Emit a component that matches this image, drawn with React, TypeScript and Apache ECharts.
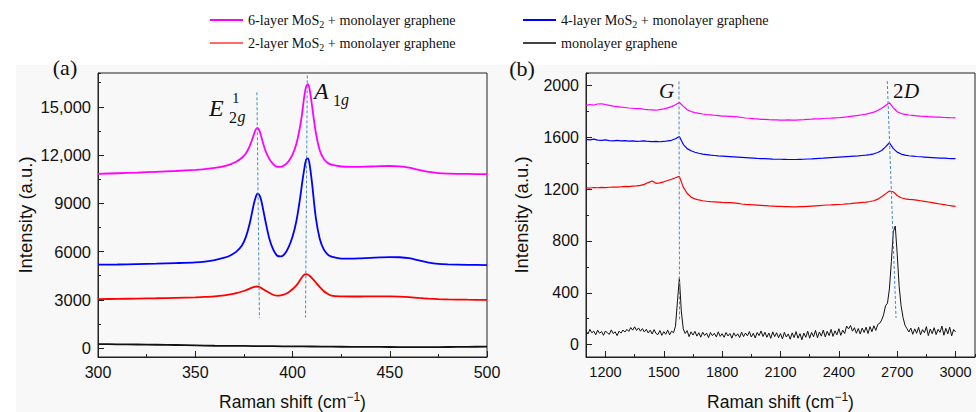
import React, { useEffect, useRef } from 'react';
import * as echarts from 'echarts';

// ---------- legend / series names ----------
const seriesNames = [
  '6-layer MoS2 + monolayer graphene',
  '4-layer MoS2 + monolayer graphene',
  '2-layer MoS2 + monolayer graphene',
  'monolayer graphene',
];
const seriesColors = ['#ff00ff', '#0000ff', '#ff0000', '#111111'];
const legendColors = ['#ff00ff', '#0000ff', '#ff6a6a', '#444444'];

// ---------- panel (a): MoS2 region ----------
const shiftA = [300, 310, 320, 330, 340, 350, 355, 360, 365, 368, 371, 374, 376, 378, 380, 381, 382, 383, 384, 386, 388, 390, 392, 394, 396, 398, 400, 402, 404, 405, 406, 407, 408, 409, 410, 412, 414, 416, 418, 420, 425, 430, 435, 440, 445, 450, 455, 460, 465, 470, 475, 480, 490, 500];
const mos6A = [10830, 10870, 10910, 10960, 11010, 11080, 11130, 11200, 11310, 11420, 11580, 11830, 12100, 12560, 13220, 13560, 13690, 13520, 13120, 12300, 11780, 11450, 11260, 11260, 11380, 11620, 12020, 12700, 13850, 14650, 15600, 16250, 16400, 15950, 15100, 13400, 12300, 11780, 11520, 11400, 11290, 11260, 11270, 11290, 11310, 11320, 11300, 11220, 11080, 10950, 10880, 10850, 10830, 10810];
const mos4A = [5185, 5200, 5225, 5250, 5285, 5330, 5380, 5470, 5620, 5760, 5980, 6380, 6900, 7750, 8900, 9350, 9600, 9500, 9150, 7950, 6850, 6150, 5760, 5700, 5860, 6280, 6920, 7900, 9400, 10300, 11100, 11700, 11800, 11250, 10300, 8100, 6800, 6150, 5830, 5690, 5570, 5560, 5580, 5610, 5640, 5660, 5650, 5590, 5450, 5320, 5240, 5210, 5180, 5165];
const mos2A = [3050, 3060, 3080, 3100, 3130, 3160, 3185, 3215, 3280, 3340, 3420, 3520, 3600, 3700, 3790, 3820, 3830, 3800, 3730, 3580, 3440, 3320, 3260, 3280, 3350, 3480, 3660, 3900, 4250, 4420, 4560, 4600, 4560, 4470, 4350, 4080, 3800, 3550, 3380, 3270, 3220, 3210, 3210, 3215, 3220, 3215, 3200, 3170, 3120, 3080, 3050, 3030, 3010, 3000];
const shiftMonoA = [300, 310, 320, 330, 340, 350, 360, 370, 380, 390, 400, 410, 420, 430, 440, 450, 460, 470, 480, 490, 500];
const monoA = [250, 240, 228, 212, 195, 172, 150, 142, 130, 122, 110, 102, 92, 84, 80, 72, 64, 62, 72, 82, 92];
// dashed guide lines: [xTop, yTop, xBottom, yBottom]
const guidesA = [
  [381.7, 15900, 383.0, 1870],
  [407.6, 16950, 406.7, 1900],
];
const yRangeA = [-550, 17100];

// ---------- panel (b): graphene region ----------
const shiftB = [1100, 1120, 1140, 1160, 1180, 1200, 1220, 1240, 1260, 1280, 1300, 1320, 1340, 1360, 1380, 1400, 1420, 1440, 1460, 1480, 1500, 1520, 1540, 1560, 1580, 1600, 1620, 1640, 1660, 1680, 1700, 1720, 1740, 1760, 1780, 1800, 1820, 1840, 1860, 1880, 1900, 1920, 1940, 1960, 1980, 2000, 2020, 2040, 2060, 2080, 2100, 2120, 2140, 2160, 2180, 2200, 2220, 2240, 2260, 2280, 2300, 2320, 2340, 2360, 2380, 2400, 2420, 2440, 2460, 2480, 2500, 2520, 2540, 2560, 2580, 2600, 2620, 2640, 2660, 2680, 2700, 2720, 2740, 2760, 2780, 2800, 2820, 2840, 2860, 2880, 2900, 2920, 2940, 2960, 2980, 3000];
const mos6B = [1845, 1852, 1848, 1856, 1858, 1851, 1846, 1840, 1836, 1832, 1829, 1825, 1823, 1820, 1821, 1815, 1812, 1810, 1808, 1813, 1818, 1826, 1836, 1850, 1868, 1840, 1812, 1798, 1790, 1784, 1779, 1775, 1772, 1769, 1766, 1763, 1762, 1760, 1758, 1756, 1752, 1748, 1746, 1743, 1741, 1738, 1737, 1735, 1734, 1733, 1732, 1731, 1733, 1732, 1732, 1734, 1735, 1738, 1739, 1741, 1742, 1744, 1746, 1747, 1749, 1750, 1753, 1756, 1760, 1764, 1768, 1773, 1778, 1785, 1793, 1806, 1824, 1845, 1866, 1826, 1796, 1783, 1776, 1771, 1768, 1765, 1762, 1760, 1758, 1757, 1755, 1754, 1752, 1751, 1750, 1749];
const mos4B = [1583, 1580, 1585, 1578, 1576, 1579, 1574, 1572, 1576, 1571, 1573, 1569, 1572, 1568, 1569, 1571, 1567, 1566, 1568, 1565, 1567, 1571, 1576, 1588, 1606, 1545, 1512, 1495, 1484, 1476, 1470, 1466, 1462, 1459, 1456, 1454, 1452, 1450, 1448, 1446, 1444, 1442, 1440, 1438, 1436, 1435, 1434, 1433, 1431, 1430, 1430, 1429, 1428, 1428, 1428, 1429, 1430, 1432, 1433, 1435, 1437, 1438, 1440, 1442, 1444, 1446, 1448, 1450, 1452, 1454, 1456, 1459, 1462, 1466, 1472, 1482, 1497, 1525, 1557, 1512, 1485, 1470, 1462, 1457, 1454, 1451, 1449, 1447, 1445, 1443, 1441, 1439, 1438, 1436, 1435, 1434];
const mos2B = [1210, 1208, 1212, 1210, 1213, 1211, 1214, 1216, 1215, 1218, 1220, 1219, 1222, 1224, 1228, 1236, 1250, 1262, 1244, 1248, 1256, 1266, 1276, 1287, 1298, 1215, 1168, 1138, 1124, 1116, 1110, 1106, 1103, 1101, 1099, 1097, 1096, 1095, 1093, 1090, 1085, 1082, 1080, 1078, 1076, 1074, 1072, 1070, 1069, 1067, 1066, 1065, 1064, 1063, 1063, 1064, 1065, 1067, 1069, 1071, 1073, 1075, 1077, 1078, 1080, 1081, 1083, 1086, 1088, 1091, 1094, 1097, 1100, 1104, 1110, 1122, 1140, 1163, 1185, 1178, 1150, 1133, 1125, 1121, 1118, 1114, 1110, 1105, 1100, 1095, 1090, 1085, 1080, 1075, 1071, 1067];
const shiftMonoB = [1100, 1110, 1120, 1130, 1140, 1150, 1160, 1170, 1180, 1190, 1200, 1210, 1220, 1230, 1240, 1250, 1260, 1270, 1280, 1290, 1300, 1310, 1320, 1330, 1340, 1350, 1360, 1370, 1380, 1390, 1400, 1410, 1420, 1430, 1440, 1450, 1460, 1470, 1480, 1490, 1500, 1510, 1520, 1530, 1540, 1550, 1560, 1570, 1580, 1590, 1600, 1610, 1620, 1630, 1640, 1650, 1660, 1670, 1680, 1690, 1700, 1710, 1720, 1730, 1740, 1750, 1760, 1770, 1780, 1790, 1800, 1810, 1820, 1830, 1840, 1850, 1860, 1870, 1880, 1890, 1900, 1910, 1920, 1930, 1940, 1950, 1960, 1970, 1980, 1990, 2000, 2010, 2020, 2030, 2040, 2050, 2060, 2070, 2080, 2090, 2100, 2110, 2120, 2130, 2140, 2150, 2160, 2170, 2180, 2190, 2200, 2210, 2220, 2230, 2240, 2250, 2260, 2270, 2280, 2290, 2300, 2310, 2320, 2330, 2340, 2350, 2360, 2370, 2380, 2390, 2400, 2410, 2420, 2430, 2440, 2450, 2460, 2470, 2480, 2490, 2500, 2510, 2520, 2530, 2540, 2550, 2560, 2570, 2580, 2590, 2600, 2610, 2620, 2630, 2640, 2650, 2660, 2670, 2680, 2690, 2700, 2710, 2720, 2730, 2740, 2750, 2760, 2770, 2780, 2790, 2800, 2810, 2820, 2830, 2840, 2850, 2860, 2870, 2880, 2890, 2900, 2910, 2920, 2930, 2940, 2950, 2960, 2970, 2980, 2990, 3000];
const monoB = [108, 82, 118, 92, 104, 76, 112, 88, 102, 72, 106, 90, 80, 114, 86, 99, 70, 104, 89, 113, 97, 118, 102, 132, 112, 138, 110, 129, 104, 124, 98, 119, 90, 112, 82, 116, 86, 78, 109, 72, 101, 80, 112, 76, 104, 92, 142, 330, 515, 260, 122, 86, 108, 62, 99, 74, 103, 66, 92, 58, 96, 71, 89, 54, 94, 69, 88, 60, 99, 64, 85, 57, 94, 67, 86, 50, 91, 65, 84, 55, 97, 62, 90, 68, 101, 59, 88, 52, 94, 70, 106, 63, 96, 57, 90, 49, 99, 62, 92, 54, 86, 44, 95, 59, 83, 42, 91, 55, 101, 50, 85, 38, 89, 57, 104, 50, 95, 61, 110, 54, 98, 66, 113, 60, 103, 70, 118, 64, 107, 76, 123, 72, 112, 86, 144, 122, 148, 104, 131, 88, 125, 82, 128, 94, 135, 86, 139, 100, 146, 110, 156, 165, 190, 230, 300, 320, 430, 640, 870, 915, 700, 450, 300, 210, 150, 124, 98, 128, 80, 122, 88, 134, 76, 116, 92, 139, 70, 121, 85, 131, 78, 118, 95, 143, 73, 126, 83, 135, 68, 117, 98];
const guidesB = [
  [1578, 2030, 1581, 180],
  [2649, 2033, 2694, 206],
];
const yRangeB = [-95, 2095];

const SANS = '"Liberation Sans", Arial, sans-serif';
const SERIF = '"Liberation Serif", "Times New Roman", serif';
const AXIS_COLOR = '#222';

const fmtThousands = (v: number) => {
  if (Math.abs(v) >= 10000) {
    const t = Math.floor(v / 1000);
    const r = String(v % 1000).padStart(3, '0');
    return `${t},${r}`;
  }
  return String(v);
};
const fmtPlain = (v: number) => String(v);

const pairs = (xs: number[], ys: number[]) => xs.map((x, i) => [x, ys[i]]);
const guideData = (g: number[][]) =>
  g.map((r) => [{ coord: [r[0], r[1]] }, { coord: [r[2], r[3]] }]);

const axisNameStyle = {
  fontFamily: SANS,
  fontSize: 17.5,
  color: '#111',
  lineHeight: 21,
  rich: {
    sup: { fontFamily: SANS, fontSize: 12, lineHeight: 12, verticalAlign: 'top', color: '#111' },
  },
};

const majorY = (grid: number, min: number, max: number, step: number, nameGap: number, fontSize: number, fmt: (v: number) => string) => ({
  type: 'value',
  gridIndex: grid,
  position: 'left',
  min,
  max,
  minInterval: step,
  maxInterval: step,
  name: 'Intensity (a.u.)',
  nameLocation: 'middle',
  nameGap,
  nameTextStyle: { fontFamily: SANS, fontSize: 18.5, color: '#111' },
  axisLine: { show: true, onZero: false, lineStyle: { color: AXIS_COLOR, width: 1 } },
  axisTick: { show: true, inside: true, length: 6, lineStyle: { color: AXIS_COLOR } },
  axisLabel: {
    show: true,
    margin: 7,
    fontFamily: SANS,
    fontSize,
    color: '#111',
    showMinLabel: false,
    showMaxLabel: false,
    formatter: fmt,
  },
  splitLine: { show: false },
});

const minorY = (grid: number, min: number, max: number, step: number) => ({
  type: 'value',
  gridIndex: grid,
  position: 'left',
  min,
  max,
  minInterval: step,
  maxInterval: step,
  axisLine: { show: false, onZero: false },
  axisTick: { show: true, inside: true, length: 3, lineStyle: { color: AXIS_COLOR } },
  axisLabel: { show: false },
  splitLine: { show: false },
});

const lineSeries = (name: string, color: string, data: number[][], xi: number, yi: number, width: number, smooth: number | boolean, extra: any = {}) => ({
  type: 'line',
  name,
  data,
  xAxisIndex: xi,
  yAxisIndex: yi,
  showSymbol: false,
  symbol: 'none',
  smooth,
  color,
  lineStyle: { color, width },
  emphasis: { disabled: true },
  silent: true,
  ...extra,
});

const guideMark = (g: number[][]) => ({
  markLine: {
    silent: true,
    symbol: ['none', 'none'],
    label: { show: false },
    lineStyle: { color: '#4a88c9', width: 1, type: [3, 2] },
    emphasis: { disabled: true },
    data: guideData(g),
  },
});

const legendCommon = {
  orient: 'vertical',
  top: 11,
  padding: 0,
  itemGap: 5,
  itemWidth: 33,
  itemHeight: 2,
  icon: 'rect',
  selectedMode: false,
  formatter: (n: string) => n.replace('MoS2', 'MoS{sub|2}'),
  textStyle: {
    fontFamily: SERIF,
    fontSize: 14.2,
    color: '#111',
    lineHeight: 18,
    rich: {
      sub: { fontFamily: SERIF, fontSize: 10, lineHeight: 10, verticalAlign: 'top', padding: [8, 0, 0, 0], color: '#111' },
    },
  },
};
const legendItem = (i: number) => ({
  name: seriesNames[i],
  itemStyle: { color: legendColors[i] },
  lineStyle: { color: legendColors[i] },
});

const txt = (text: string, x: number, y: number, font: string, align = 'left') => ({
  type: 'text',
  x,
  y,
  silent: true,
  style: { text, font, fill: '#111', textAlign: align, verticalAlign: 'middle', textVerticalAlign: 'middle' },
});

const option: any = {
  animation: false,
  backgroundColor: '#ffffff',
  textStyle: { fontFamily: SANS },
  legend: [
    { ...legendCommon, left: 210, data: [legendItem(0), legendItem(2)] },
    { ...legendCommon, left: 523, data: [legendItem(1), legendItem(3)] },
  ],
  grid: [
    { left: 98, top: 73, width: 389, height: 284, show: true, borderColor: AXIS_COLOR, borderWidth: 1, backgroundColor: 'transparent', containLabel: false, outerBoundsMode: 'none' },
    { left: 586, top: 73, width: 389, height: 284, show: true, borderColor: AXIS_COLOR, borderWidth: 1, backgroundColor: 'transparent', containLabel: false, outerBoundsMode: 'none' },
  ],
  xAxis: [
    {
      type: 'value',
      gridIndex: 0,
      position: 'bottom',
      min: 300,
      max: 500,
      interval: 50,
      name: 'Raman shift (cm{sup|−1})',
      nameLocation: 'middle',
      nameGap: 34,
      nameTextStyle: axisNameStyle,
      axisLine: { show: true, onZero: false, lineStyle: { color: AXIS_COLOR, width: 1 } },
      axisTick: { show: true, inside: true, length: 6, lineStyle: { color: AXIS_COLOR } },
      minorTick: { show: true, splitNumber: 2, length: 3, lineStyle: { color: AXIS_COLOR } },
      axisLabel: { margin: 7, fontFamily: SANS, fontSize: 16, color: '#111', formatter: fmtPlain },
      splitLine: { show: false },
      minorSplitLine: { show: false },
    },
    {
      type: 'value',
      gridIndex: 1,
      position: 'bottom',
      min: 1100,
      max: 3100,
      minInterval: 300,
      maxInterval: 300,
      name: 'Raman shift (cm{sup|−1})',
      nameLocation: 'middle',
      nameGap: 34,
      nameTextStyle: axisNameStyle,
      axisLine: { show: true, onZero: false, lineStyle: { color: AXIS_COLOR, width: 1 } },
      axisTick: { show: true, inside: true, length: 6, lineStyle: { color: AXIS_COLOR } },
      axisLabel: { margin: 7, fontFamily: SANS, fontSize: 14.5, color: '#111', showMinLabel: false, showMaxLabel: false, formatter: fmtPlain },
      splitLine: { show: false },
    },
    {
      type: 'value',
      gridIndex: 1,
      position: 'bottom',
      min: 1100,
      max: 3100,
      minInterval: 150,
      maxInterval: 150,
      axisLine: { show: false, onZero: false },
      axisTick: { show: true, inside: true, length: 3, lineStyle: { color: AXIS_COLOR } },
      axisLabel: { show: false },
      splitLine: { show: false },
    },
  ],
  yAxis: [
    majorY(0, yRangeA[0], yRangeA[1], 3000, 63, 16.5, fmtThousands),
    minorY(0, yRangeA[0], yRangeA[1], 1500),
    majorY(1, yRangeB[0], yRangeB[1], 400, 55, 16, fmtPlain),
    minorY(1, yRangeB[0], yRangeB[1], 200),
  ],
  graphic: [
    { type: 'rect', z: -10, silent: true, shape: { x: 16, y: 65, width: 960, height: 347 }, style: { fill: '#f8f8f8' } },
    txt('(a)', 65, 67, `22px ${SERIF}`, 'center'),
    txt('(b)', 522, 68, `22px ${SERIF}`, 'center'),
    txt('E', 209, 108, `italic 24px ${SERIF}`),
    txt('1', 232, 98, `15px ${SERIF}`),
    txt('2', 229, 117, `16px ${SERIF}`),
    txt('g', 237.5, 116, `italic 16px ${SERIF}`),
    txt('A', 314, 91, `italic 24px ${SERIF}`),
    txt('1', 333, 100, `16px ${SERIF}`),
    txt('g', 341, 99, `italic 16px ${SERIF}`),
    txt('G', 659, 91, `italic 21px ${SERIF}`),
    txt('2', 893, 91, `21px ${SERIF}`),
    txt('D', 904, 91, `italic 21px ${SERIF}`),
  ],
  series: [
    lineSeries(seriesNames[0], seriesColors[0], pairs(shiftA, mos6A), 0, 0, 1.8, 0.3, guideMark(guidesA)),
    lineSeries(seriesNames[1], seriesColors[1], pairs(shiftA, mos4A), 0, 0, 1.8, 0.3),
    lineSeries(seriesNames[2], seriesColors[2], pairs(shiftA, mos2A), 0, 0, 1.8, 0.3),
    lineSeries(seriesNames[3], seriesColors[3], pairs(shiftMonoA, monoA), 0, 0, 1.8, 0.3),
    lineSeries(seriesNames[0], seriesColors[0], pairs(shiftB, mos6B), 1, 2, 1.2, false, guideMark(guidesB)),
    lineSeries(seriesNames[1], seriesColors[1], pairs(shiftB, mos4B), 1, 2, 1.2, false),
    lineSeries(seriesNames[2], seriesColors[2], pairs(shiftB, mos2B), 1, 2, 1.2, false),
    lineSeries(seriesNames[3], seriesColors[3], pairs(shiftMonoB, monoB), 1, 2, 1, false),
  ],
};

export default function App() {
  const ref = useRef<HTMLDivElement>(null);
  useEffect(() => {
    document.body.style.margin = '0';
    const chart = echarts.init(ref.current as HTMLDivElement, null, { renderer: 'svg' });
    chart.setOption(option);
    return () => chart.dispose();
  }, []);
  return <div ref={ref} style={{ position: 'absolute', left: 0, top: 0, width: 976, height: 412 }} />;
}
